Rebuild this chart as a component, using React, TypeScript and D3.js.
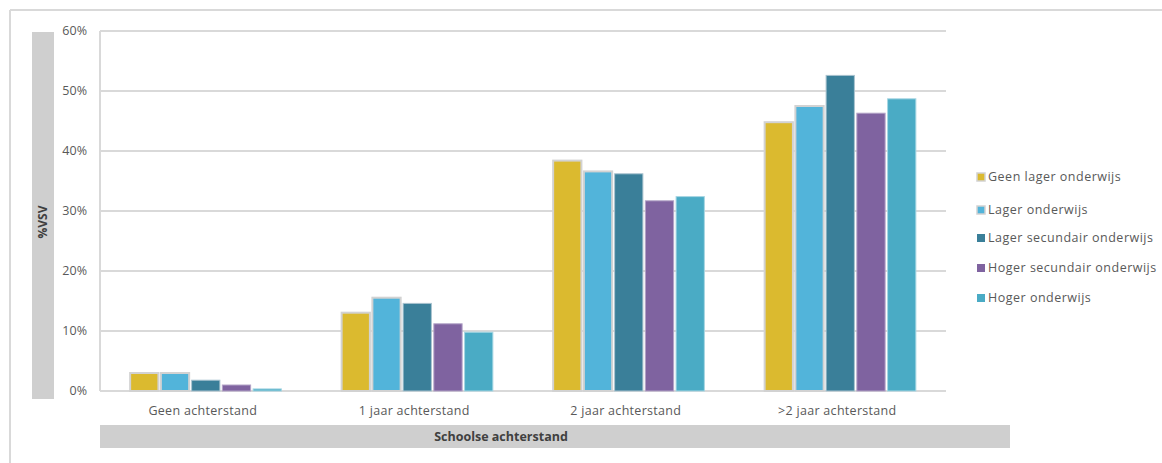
import React from "react";
import * as d3 from "d3";

const categories = ["Geen achterstand", "1 jaar achterstand", "2 jaar achterstand", ">2 jaar achterstand"];
const seriesNames = ["Geen lager onderwijs", "Lager onderwijs", "Lager secundair onderwijs", "Hoger secundair onderwijs", "Hoger onderwijs"];
const geenLager = [3.0, 13.05, 38.4, 44.8];
const lager = [3.0, 15.55, 36.6, 47.5];
const lagerSecundair = [1.8, 14.6, 36.2, 52.6];
const hogerSecundair = [1.0, 11.2, 31.7, 46.3];
const hoger = [0.35, 9.8, 32.4, 48.7];
const yTicks = [0, 10, 20, 30, 40, 50, 60];
const colors = ["#DBBA2F", "#52B4DA", "#3A7F99", "#7F63A0", "#4AABC5"];
const strokes = ["#d2d2d2", "#d2d2d2", "#a9c3cf", "#b3a3c7", "#a7d6e3"];

const seriesValues = [geenLager, lager, lagerSecundair, hogerSecundair, hoger];

export default function App() {
  const W = 1162, H = 463;
  const left = 100, right = 946, top = 31, bottom = 391;
  const x0 = d3.scaleBand<string>().domain(categories).range([left, right]).paddingInner(0.285).paddingOuter(0.1425);
  const x1 = d3.scaleBand<string>().domain(seriesNames).range([0, x0.bandwidth()]).paddingInner(0.08);
  const y = d3.scaleLinear().domain([0, 60]).range([bottom, top]);
  const font = "'Open Sans', 'Noto Sans', sans-serif";
  const textColor = "#595959";

  return (
    <svg width={W} height={H} style={{ position: "absolute", left: 0, top: 0 }} fontFamily={font}>
      <rect x={0} y={0} width={W} height={H} fill="#fff" />
      {/* outer border */}
      <line x1={10} y1={10} x2={W} y2={10} stroke="#d9d9d9" strokeWidth={2} />
      <line x1={10} y1={10} x2={10} y2={H} stroke="#d9d9d9" strokeWidth={2} />
      {/* y title bar */}
      <rect x={32} y={32} width={22} height={367} fill="#cfcfcf" />
      <text transform={`translate(47,222) rotate(-90)`} textAnchor="middle" fontSize={12} fontWeight="bold" fill="#404040">%VSV</text>
      {/* gridlines */}
      {yTicks.map((t) => (
        <g key={t}>
          <line x1={left} x2={right} y1={y(t)} y2={y(t)} stroke="#d9d9d9" strokeWidth={2} />
          <text x={87} y={y(t)} dy="0.35em" textAnchor="end" fontSize={12.5} fill={textColor}>{t}%</text>
        </g>
      ))}
      <line x1={left} x2={left} y1={top} y2={bottom} stroke="#d9d9d9" strokeWidth={2} />
      {/* bars */}
      {categories.map((c, ci) => (
        <g key={c} transform={`translate(${x0(c)},0)`}>
          {seriesNames.map((s, si) => {
            const v = seriesValues[si][ci];
            return (
              <rect key={s} x={x1(s)} y={y(v)} width={x1.bandwidth()} height={bottom - y(v)}
                fill={colors[si]} stroke={strokes[si]} strokeWidth={si < 2 ? 2 : 1} />
            );
          })}
        </g>
      ))}
      {/* x labels */}
      {categories.map((c) => (
        <text key={c} x={(x0(c) as number) + x0.bandwidth() / 2 - 3} y={411} dy="0.35em" textAnchor="middle" fontSize={12.5} letterSpacing={0.3} fill={textColor}>{c}</text>
      ))}
      {/* x title bar */}
      <rect x={100} y={425} width={910} height={23} fill="#cfcfcf" />
      <text x={501} y={437} dy="0.35em" textAnchor="middle" fontSize={12.5} fontWeight="bold" fill="#404040">Schoolse achterstand</text>
      {/* legend */}
      {seriesNames.map((s, i) => {
        const ly = [177, 210, 238, 268, 298][i];
        return (
          <g key={s}>
            <rect x={977} y={ly - 4} width={8} height={8} fill={colors[i]} stroke={strokes[i]} strokeWidth={i < 2 ? 1.5 : 0} />
            <text x={988} y={ly} dy="0.35em" fontSize={12.5} letterSpacing={0.5} fill={textColor}>{s}</text>
          </g>
        );
      })}
    </svg>
  );
}
